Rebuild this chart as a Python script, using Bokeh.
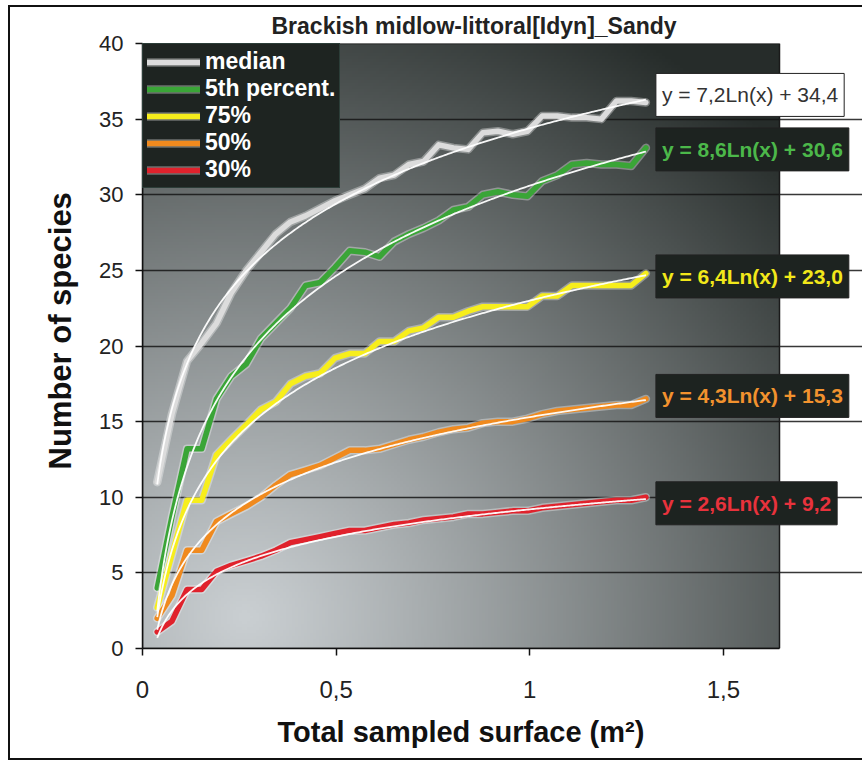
import numpy as np
from bokeh.plotting import figure
from bokeh.models import (Range1d, FixedTicker, Legend, LegendItem, Label, Title,
                          CustomJSTickFormatter)
from bokeh.embed import file_html
from bokeh.resources import INLINE

# ---------------- data ----------------
title_text = "Brackish midlow-littoral[Idyn]_Sandy"
x_label = "Total sampled surface (m\u00b2)"
y_label = "Number of species"

surface = [0.038, 0.076, 0.115, 0.153, 0.191, 0.229, 0.268, 0.306, 0.344, 0.382,
           0.421, 0.459, 0.497, 0.535, 0.574, 0.612, 0.650, 0.688, 0.726, 0.765,
           0.803, 0.841, 0.879, 0.918, 0.956, 0.994, 1.032, 1.071, 1.109, 1.147,
           1.185, 1.224, 1.262, 1.300]

median = [11.0, 15.5, 19.0, 20.2, 21.5, 23.5, 25.0, 26.2, 27.4, 28.2,
          28.6, 29.1, 29.6, 30.0, 30.4, 31.1, 31.3, 32.0, 32.2, 33.3,
          33.1, 33.0, 34.1, 34.2, 34.0, 34.2, 35.2, 35.2, 35.1, 35.1,
          35.0, 36.2, 36.2, 36.1]
pct5 = [4.0, 8.7, 13.2, 13.2, 16.5, 18.0, 18.8, 20.5, 21.5, 22.5,
        24.0, 24.2, 25.2, 26.3, 26.2, 25.9, 26.9, 27.4, 27.8, 28.3,
        29.0, 29.2, 30.0, 30.2, 30.0, 29.9, 30.9, 31.3, 32.0, 32.1,
        32.0, 32.0, 31.9, 33.1]
pct75 = [2.7, 6.2, 9.8, 9.8, 12.8, 13.8, 14.8, 15.8, 16.3, 17.5,
         18.0, 18.2, 19.2, 19.5, 19.5, 20.3, 20.3, 21.0, 21.2, 21.9,
         21.9, 22.3, 22.6, 22.6, 22.6, 22.6, 23.3, 23.3, 24.0, 24.0,
         24.0, 24.0, 24.0, 24.8]
pct50 = [2.0, 3.5, 6.5, 6.5, 8.4, 8.9, 9.4, 10.0, 10.8, 11.5,
         11.8, 12.1, 12.6, 13.1, 13.1, 13.2, 13.5, 13.8, 14.0, 14.3,
         14.5, 14.6, 14.9, 15.0, 15.0, 15.2, 15.5, 15.7, 15.8, 15.9,
         16.0, 16.1, 16.1, 16.5]
pct30 = [1.1, 1.8, 3.9, 3.9, 5.1, 5.5, 5.8, 6.1, 6.5, 7.0,
         7.2, 7.4, 7.6, 7.8, 7.8, 8.0, 8.2, 8.3, 8.5, 8.6,
         8.7, 8.9, 8.9, 9.0, 9.1, 9.1, 9.3, 9.4, 9.5, 9.6,
         9.7, 9.8, 9.8, 10.0]

series_names = ["median", "5th percent.", "75%", "50%", "30%"]
series_values = [median, pct5, pct75, pct50, pct30]
trend_a = [7.2, 8.6, 6.4, 4.3, 2.6]
trend_b = [34.4, 30.6, 23.0, 15.3, 9.2]

x_ticks = [0, 0.5, 1, 1.5]
y_ticks = [0, 5, 10, 15, 20, 25, 30, 35, 40]

# ---------------- style / layout ----------------
FONT = "Liberation Sans"
line_colors = ["#dcdcdc", "#3aa537", "#f7ee1c", "#f08a1e", "#e0222c"]
label_text_colors = ["#333333", "#4cb84a", "#f2e81a", "#f2922e", "#e8323c"]
label_bg = ["#ffffff", "#1d2320", "#1d2320", "#1d2320", "#1d2320"]
label_dy = [0.5, -0.1, -0.2, 0.2, -0.4]

X_MAX = 1.645          # right edge of the plot area
Y_MAX = 40
FIG_W, FIG_H = 854, 755
FRAME_LEFT, FRAME_TOP, FRAME_BOTTOM = 134, 37, 112
PLOT_AREA_W = 637
FRAME_W = FIG_W - FRAME_LEFT
X_END = X_MAX * FRAME_W / PLOT_AREA_W   # frame extends to the canvas edge

p = figure(width=FIG_W, height=FIG_H, output_backend="svg", toolbar_location=None,
           x_range=Range1d(0, X_END), y_range=Range1d(0, Y_MAX),
           min_border_left=FRAME_LEFT, min_border_right=0,
           min_border_top=FRAME_TOP, min_border_bottom=FRAME_BOTTOM,
           margin=(5, 0, 0, 8),
           styles={"box-shadow": "inset 2px 0 0 0 #111, inset 0 2px 0 0 #111, inset 0 -2px 0 0 #111"})

p.background_fill_color = "white"
p.border_fill_color = None
p.outline_line_color = None

# gradient background of the plot area (decoration)
nx, ny = 212, 202
gx = np.linspace(0, 1, nx)
gy = np.linspace(0, 1, ny)
GX, GY = np.meshgrid(gx, gy)
r = np.sqrt(((GX - 0.16) * 637 / 1.08) ** 2 + ((GY - 0.05) * 606) ** 2) / 690.0
t = np.clip(r, 0, 1) ** 1.1
light = np.array([202, 207, 210], dtype=float)
dark = np.array([38, 44, 42], dtype=float)
rgb = light[None, None, :] * (1 - t[..., None]) + dark[None, None, :] * t[..., None]
img = np.empty((ny, nx), dtype=np.uint32)
view = img.view(dtype=np.uint8).reshape((ny, nx, 4))
view[..., :3] = rgb.astype(np.uint8)
view[..., 3] = 255
bg = p.image_rgba(image=[img], x=0, y=0, dw=X_MAX, dh=Y_MAX)
bg.level = "image"

# plot-area border
p.quad(left=[0], right=[X_MAX], bottom=[0], top=[Y_MAX], fill_color=None,
       line_color="#1a1a1a", line_width=1.5)

# title, centred over the plot area
p.title.text = title_text
p.title.align = "left"
p.title.offset = 129
p.title.text_font = FONT
p.title.text_font_style = "bold"
p.title.text_font_size = "23px"
p.title.text_color = "#222222"

# axes
for ax in (p.xaxis[0], p.yaxis[0]):
    ax.axis_line_color = "#111111"
    ax.axis_line_width = 1.5
    ax.major_tick_line_color = "#111111"
    ax.major_tick_line_width = 1.5
    ax.major_tick_out = 7
    ax.major_tick_in = 0
    ax.minor_tick_line_color = None
    ax.major_label_text_font = FONT
    ax.major_label_text_color = "#222222"

p.xaxis.major_label_text_font_size = "24px"
p.yaxis.major_label_text_font_size = "22px"
p.xaxis.bounds = (0, X_MAX)
p.xaxis.ticker = FixedTicker(ticks=x_ticks)
p.yaxis.ticker = FixedTicker(ticks=y_ticks)
p.xaxis.formatter = CustomJSTickFormatter(code="return tick.toString().replace('.', ',');")
p.xaxis.major_label_standoff = 25
p.yaxis.major_label_standoff = 12

# axis titles placed as panel titles so they can sit under / beside the plot area
xt_title = Title(text=x_label, align="left", offset=135, text_font=FONT,
                 text_font_style="bold", text_font_size="29px", text_color="#111111",
                 standoff=26)
p.add_layout(xt_title, "below")
yt_title = Title(text=y_label, align="left", offset=179, text_font=FONT,
                 text_font_style="bold", text_font_size="31px", text_color="#111111",
                 standoff=38)
p.add_layout(yt_title, "left")

p.xgrid.grid_line_color = None
p.ygrid.grid_line_color = "#151515"
p.ygrid.grid_line_width = 1.3
p.ygrid.grid_line_alpha = 0.85
p.ygrid.bounds = (0, X_MAX)

# series
items = []
for name, vals, col in zip(series_names, series_values, line_colors):
    halo = p.line(surface, vals, line_color="white", line_alpha=0.35, line_width=8.5,
                  line_join="round", line_cap="round")
    main = p.line(surface, vals, line_color=col, line_width=5.5,
                  line_join="round", line_cap="round")
    items.append(LegendItem(label=name, renderers=[halo, main]))

# logarithmic trend lines from the displayed equations
xt = np.linspace(surface[0], surface[-1], 300)
for a, b in zip(trend_a, trend_b):
    p.line(xt, a * np.log(xt) + b, line_color="white", line_alpha=0.95, line_width=1.8)

legend = Legend(items=items, location="top_left")
legend.margin = 0
legend.padding = 4
legend.spacing = 0
legend.label_height = 26
legend.glyph_height = 26
legend.glyph_width = 53
legend.label_standoff = 5
legend.label_text_font = FONT
legend.label_text_font_style = "bold"
legend.label_text_font_size = "23px"
legend.label_text_color = "white"
legend.background_fill_color = "#1e2421"
legend.background_fill_alpha = 1
legend.border_line_color = "#3a5550"
legend.border_line_width = 1
p.add_layout(legend)

# trend equations
for i, (a, b) in enumerate(zip(trend_a, trend_b)):
    txt = ("y = %.1fLn(x) + %.1f" % (a, b)).replace(".", ",")
    lab = Label(x=surface[-1], y=series_values[i][-1] + label_dy[i], text=txt,
                x_offset=10, text_baseline="middle", text_align="left",
                text_font=FONT, text_font_size="21px",
                text_font_style="normal" if i == 0 else "bold",
                text_color=label_text_colors[i],
                background_fill_color=label_bg[i], background_fill_alpha=1,
                border_line_color="#222222", border_line_width=1,
                padding=(6, 10))
    p.add_layout(lab)

open("out.html", "w").write(file_html(p, INLINE))
